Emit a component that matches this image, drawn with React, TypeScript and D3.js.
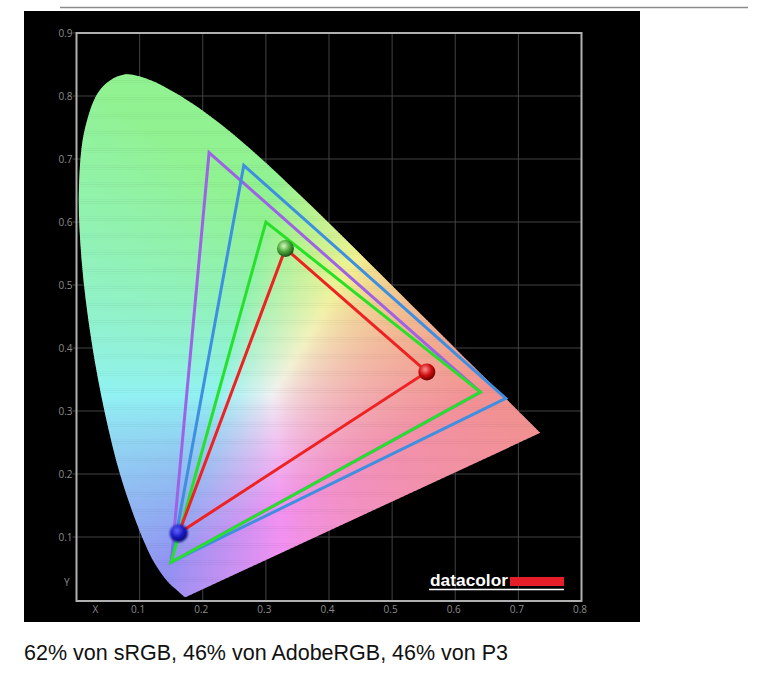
import { FC, useRef, useEffect } from 'react'
import * as d3 from 'd3'

// CIE 1931 spectral locus (x, y), 380-700 nm
const locusX = [0.1741, 0.1738, 0.1733, 0.1726, 0.1714, 0.1689, 0.1644, 0.1566, 0.144, 0.1241, 0.1096, 0.0913, 0.0687, 0.0454, 0.0235, 0.0082, 0.0039, 0.0139, 0.0389, 0.0743, 0.1142, 0.1547, 0.1929, 0.2296, 0.2658, 0.3016, 0.3373, 0.3731, 0.4087, 0.4441, 0.4788, 0.5125, 0.5448, 0.5752, 0.6029, 0.627, 0.6658, 0.6915, 0.7079, 0.719, 0.726, 0.73, 0.7334, 0.7347]
const locusY = [0.005, 0.0049, 0.0048, 0.0048, 0.0051, 0.0069, 0.0109, 0.0177, 0.0297, 0.0578, 0.0868, 0.1327, 0.2007, 0.295, 0.4127, 0.5384, 0.6548, 0.7502, 0.812, 0.8338, 0.8262, 0.8059, 0.7816, 0.7543, 0.7243, 0.6923, 0.6589, 0.6245, 0.5896, 0.5547, 0.5202, 0.4866, 0.4544, 0.4242, 0.3965, 0.3725, 0.334, 0.3083, 0.292, 0.2809, 0.274, 0.27, 0.2666, 0.2653]

// gamut triangles: R, G, B corners
const gamutNames = ['AdobeRGB', 'P3', 'sRGB', 'Display']
const gamutColors = ['#9d62e6', '#3f8fe0', '#27e02a', '#ee2222']
const gamutX = [
  [0.64, 0.21, 0.15],
  [0.68, 0.265, 0.15],
  [0.64, 0.3, 0.15],
  [0.555, 0.331, 0.162],
]
const gamutY = [
  [0.33, 0.71, 0.06],
  [0.32, 0.69, 0.06],
  [0.33, 0.6, 0.06],
  [0.362, 0.558, 0.106],
]

const xTicks = [0.1, 0.2, 0.3, 0.4, 0.5, 0.6, 0.7, 0.8]
const yTicks = [0.1, 0.2, 0.3, 0.4, 0.5, 0.6, 0.7, 0.8, 0.9]
const caption = '62% von sRGB, 46% von AdobeRGB, 46% von P3'

const xyToColor = (x: number, y: number) => {
  const X = x / y
  const Z = (1 - x - y) / y
  let r = 3.2406 * X - 1.5372 - 0.4986 * Z
  let g = -0.9689 * X + 1.8758 + 0.0415 * Z
  let b = 0.0557 * X - 0.204 + 1.057 * Z
  r = Math.max(0, r); g = Math.max(0, g); b = Math.max(0, b)
  const m = Math.max(r, g, b) || 1
  const lo = 145, hi = 242
  const f = (c: number) => Math.round(lo + (hi - lo) * Math.pow(c / m, 0.8))
  return `rgb(${f(r)},${f(g)},${f(b)})`
}

const App: FC = () => {
  const svgRef = useRef<SVGSVGElement>(null)

  useEffect(() => {
    if (!svgRef.current) return
    const svg = d3.select(svgRef.current)
    svg.selectAll('*').remove()

    const x = d3.scaleLinear().domain([0, 0.8]).range([76.5, 581.5])
    const y = d3.scaleLinear().domain([0, 0.9]).range([600, 33])

    // page bits
    svg.append('line')
      .attr('x1', 60).attr('x2', 748).attr('y1', 7.5).attr('y2', 7.5)
      .attr('stroke', '#8a8a8a').attr('stroke-width', 1.5)
    svg.append('rect')
      .attr('x', 24).attr('y', 11).attr('width', 616).attr('height', 611)
      .attr('fill', '#000')

    // grid
    const grid = svg.append('g').attr('stroke', '#424242').attr('stroke-width', 1)
    xTicks.forEach(t => {
      grid.append('line').attr('x1', x(t)).attr('x2', x(t)).attr('y1', y(0.9)).attr('y2', y(0))
    })
    yTicks.forEach(t => {
      grid.append('line').attr('x1', x(0) - 4).attr('x2', x(0.8)).attr('y1', y(t)).attr('y2', y(t))
    })

    const defs = svg.append('defs')

    // locus clip
    const pts: [number, number][] = locusX.map((v, i) => [x(v), y(locusY[i])])
    const locusPath = (d3.line().curve(d3.curveCatmullRom)(pts) || '') + 'Z'
    defs.append('clipPath').attr('id', 'locus').append('path').attr('d', locusPath)

    // colour fill, row by row
    const fill = svg.append('g').attr('clip-path', 'url(#locus)')
    const step = 0.003
    const x0 = 0, x1 = 0.75
    let row = 0
    for (let yv = 0.0015; yv < 0.84; yv += step) {
      const id = `row${row++}`
      const grad = defs.append('linearGradient').attr('id', id)
        .attr('gradientUnits', 'userSpaceOnUse')
        .attr('x1', x(x0)).attr('x2', x(x1)).attr('y1', 0).attr('y2', 0)
      for (let xv = x0; xv <= x1 + 1e-9; xv += 0.01) {
        grad.append('stop')
          .attr('offset', (xv - x0) / (x1 - x0))
          .attr('stop-color', xyToColor(Math.max(xv, 0.001), yv))
      }
      fill.append('rect')
        .attr('x', x(x0)).attr('width', x(x1) - x(x0))
        .attr('y', y(yv + step / 2)).attr('height', y(0) - y(step) + 0.6)
        .attr('fill', `url(#${id})`)
    }

    // frame
    svg.append('rect')
      .attr('x', x(0)).attr('y', y(0.9)).attr('width', x(0.8) - x(0)).attr('height', y(0) - y(0.9) + 1)
      .attr('fill', 'none').attr('stroke', '#b0b0b0').attr('stroke-width', 2)

    // tick labels
    const lab = svg.append('g').attr('fill', '#8c8c8c').attr('font-family', '"Open Sans", sans-serif').attr('font-size', 10)
    yTicks.forEach(t => {
      lab.append('text').attr('x', x(0) - 4).attr('y', y(t)).attr('dy', '0.35em')
        .attr('text-anchor', 'end').text(t.toFixed(1))
    })
    lab.append('text').attr('x', x(0) - 7).attr('y', y(0.027)).attr('dy', '0.35em')
      .attr('text-anchor', 'end').text('Y')
    xTicks.forEach(t => {
      lab.append('text').attr('x', x(t) - 1.5).attr('y', y(0) + 13)
        .attr('text-anchor', 'middle').text(t.toFixed(1))
    })
    lab.append('text').attr('x', x(0.03)).attr('y', y(0) + 13)
      .attr('text-anchor', 'middle').text('X')

    // gamut triangles
    const tri = d3.line().curve(d3.curveLinearClosed)
    gamutNames.forEach((name, i) => {
      const p: [number, number][] = gamutX[i].map((v, k) => [x(v), y(gamutY[i][k])])
      svg.append('path')
        .attr('class', name)
        .attr('d', tri(p))
        .attr('fill', 'none')
        .attr('stroke', gamutColors[i])
        .attr('stroke-width', 3)
        .attr('stroke-linejoin', 'miter')
    })

    // spheres on measured corners
    const sphereBase = ['#d01010', '#4aa83a', '#1818c8']
    const sphereLight = ['#ff9090', '#d8f8c0', '#6a6aff']
    const sphereDark = ['#700000', '#1e5014', '#08086a']
    const blur = defs.append('filter').attr('id', 'soft')
    blur.append('feGaussianBlur').attr('stdDeviation', 0.9)
    ;[0, 1, 2].forEach(k => {
      const g = defs.append('radialGradient').attr('id', `sph${k}`)
        .attr('cx', '40%').attr('cy', '35%').attr('r', '65%')
      g.append('stop').attr('offset', 0).attr('stop-color', sphereLight[k])
      g.append('stop').attr('offset', 0.55).attr('stop-color', sphereBase[k])
      g.append('stop').attr('offset', 1).attr('stop-color', sphereDark[k])
      svg.append('circle')
        .attr('cx', x(gamutX[3][k])).attr('cy', y(gamutY[3][k]))
        .attr('r', k === 2 ? 9 : 8.5)
        .attr('fill', `url(#sph${k})`)
        .attr('filter', k === 2 ? 'url(#soft)' : null)
    })

    // logo
    svg.append('text')
      .attr('x', 430).attr('y', 586)
      .attr('fill', '#fff').attr('font-weight', 'bold')
      .attr('font-family', '"Liberation Sans", Arial, sans-serif').attr('font-size', 17)
      .attr('textLength', 78).attr('lengthAdjust', 'spacingAndGlyphs')
      .text('datacolor')
    svg.append('rect').attr('x', 510).attr('y', 577).attr('width', 54).attr('height', 9).attr('fill', '#e61e2a')
    svg.append('line').attr('x1', 429).attr('x2', 564).attr('y1', 589.5).attr('y2', 589.5)
      .attr('stroke', '#fff').attr('stroke-width', 1.5)

    // caption
    svg.append('text')
      .attr('x', 24).attr('y', 660)
      .attr('fill', '#111')
      .attr('font-family', '"Liberation Sans", Arial, sans-serif').attr('font-size', 21.5)
      .text(caption)
  }, [])

  return (
    <svg ref={svgRef} width={775} height={675}
      style={{ position: 'absolute', left: 0, top: 0, background: '#fff' }} />
  )
}

export default App
